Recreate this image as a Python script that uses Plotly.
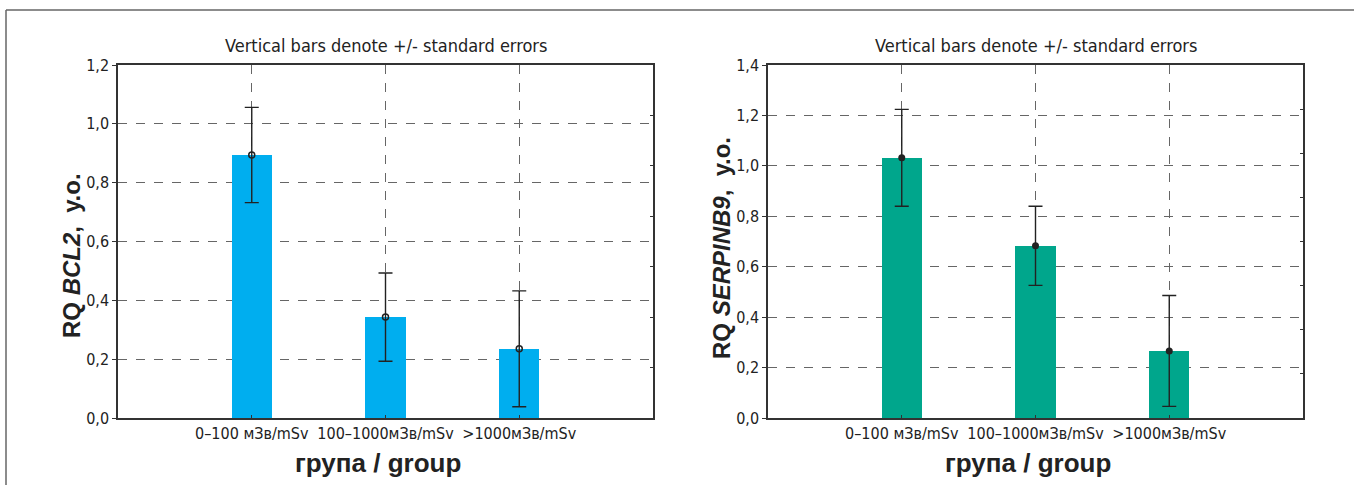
import plotly.graph_objects as go

categories = ["0–100 мЗв/mSv", "100–1000мЗв/mSv", ">1000мЗв/mSv"]
cat_pos = [1, 2, 3]

bcl2_mean = [0.894, 0.343, 0.235]
bcl2_se = [0.162, 0.150, 0.197]

serpinb9_mean = [1.032, 0.683, 0.266]
serpinb9_se = [0.192, 0.157, 0.220]

y_ticks_left = [0.0, 0.2, 0.4, 0.6, 0.8, 1.0, 1.2]
y_ticks_right = [0.0, 0.2, 0.4, 0.6, 0.8, 1.0, 1.2, 1.4]

title_text = "Vertical bars denote +/- standard errors"
x_title = "група / group"
y_title_left = "RQ <i>BCL2</i>,\u00a0\u00a0у.о."
y_title_right = "RQ <i>SERPINB9</i>,\u00a0\u00a0у.о."

W, H = 1354, 485
NARROW = "DejaVu Sans Condensed, Liberation Sans Narrow, sans-serif"
BOLD = "Liberation Sans, Arial, sans-serif"

def px_x(p):
    return p / W

def px_y(p):
    return 1 - p / H

fig = go.Figure()

fig.add_trace(go.Bar(
    x=cat_pos, y=bcl2_mean, width=0.3,
    marker=dict(color="rgb(0,174,239)", line=dict(width=0)),
    xaxis="x", yaxis="y", showlegend=False, hoverinfo="skip",
))
fig.add_trace(go.Scatter(
    x=cat_pos, y=bcl2_mean, mode="markers",
    marker=dict(symbol="circle-open", size=6, color="#222", line=dict(width=1.5)),
    error_y=dict(type="data", array=bcl2_se, visible=True, color="#222", thickness=1.4, width=7),
    xaxis="x", yaxis="y", showlegend=False, hoverinfo="skip",
))
fig.add_trace(go.Bar(
    x=cat_pos, y=serpinb9_mean, width=0.3,
    marker=dict(color="rgb(0,166,140)", line=dict(width=0)),
    xaxis="x2", yaxis="y2", showlegend=False, hoverinfo="skip",
))
fig.add_trace(go.Scatter(
    x=cat_pos, y=serpinb9_mean, mode="markers",
    marker=dict(symbol="circle", size=7, color="#222"),
    error_y=dict(type="data", array=serpinb9_se, visible=True, color="#222", thickness=1.4, width=7),
    xaxis="x2", yaxis="y2", showlegend=False, hoverinfo="skip",
))
fig.add_trace(go.Scatter(x=[], y=[], xaxis="x", yaxis="y3", showlegend=False))
fig.add_trace(go.Scatter(x=[], y=[], xaxis="x2", yaxis="y4", showlegend=False))

ydom = [px_y(418), px_y(65)]
grid = dict(showgrid=True, gridcolor="#666", griddash="dash", gridwidth=1)
axline = dict(showline=True, linecolor="#333", linewidth=1.5, mirror=True, zeroline=False)
tickfont = dict(family=NARROW, size=16, color="#222")

xcommon = dict(range=[0, 4], tickvals=cat_pos, ticktext=categories, ticks="inside",
               ticklen=3, tickcolor="#333", tickfont=tickfont, **grid, **axline)
fig.update_layout(
    xaxis=dict(domain=[px_x(118), px_x(653)], anchor="y", **xcommon),
    xaxis2=dict(domain=[px_x(768), px_x(1303)], anchor="y2", **xcommon),
    yaxis=dict(domain=ydom, anchor="x", range=[0, 1.2], tickvals=y_ticks_left,
               tickformat=".1f", ticks="outside", ticklen=4, tickcolor="#333",
               tickfont=tickfont, **grid, **axline),
    yaxis2=dict(domain=ydom, anchor="x2", range=[0, 1.4], tickvals=y_ticks_right,
                tickformat=".1f", ticks="outside", ticklen=4, tickcolor="#333",
                tickfont=tickfont, **grid, **axline),
    yaxis3=dict(overlaying="y", side="right", anchor="x", range=[0, 7],
                tickvals=[1, 2, 3, 4, 5, 6], ticks="inside", ticklen=3, tickcolor="#333",
                showticklabels=False, showgrid=False, showline=False, zeroline=False),
    yaxis4=dict(overlaying="y2", side="right", anchor="x2", range=[0, 8],
                tickvals=[1, 2, 3, 4, 5, 6, 7], ticks="inside", ticklen=3, tickcolor="#333",
                showticklabels=False, showgrid=False, showline=False, zeroline=False),
    separators=", ",
    width=W, height=H,
    autosize=False,
    margin=dict(l=0, r=0, t=0, b=0, pad=0, autoexpand=False),
    paper_bgcolor="white", plot_bgcolor="white",
    bargap=0,
)

annotations = []
for cx, ytitle, ycy, yx in [(385.5, y_title_left, 256, 71), (1035.5, y_title_right, 248, 722)]:
    annotations.append(dict(text=title_text, x=px_x(cx), y=px_y(45), xref="paper", yref="paper",
                            showarrow=False, xanchor="center", yanchor="middle",
                            font=dict(family=NARROW, size=18, color="#222")))
    annotations.append(dict(text=x_title, x=px_x(cx - 8), y=px_y(463), xref="paper", yref="paper",
                            showarrow=False, xanchor="center", yanchor="middle",
                            font=dict(family=BOLD, size=26, color="#222", weight="bold")))
    annotations.append(dict(text=ytitle, x=px_x(yx), y=px_y(ycy), xref="paper", yref="paper",
                            showarrow=False, xanchor="center", yanchor="middle", textangle=-90,
                            font=dict(family=BOLD, size=24, color="#222", weight="bold")))
fig.update_layout(annotations=annotations)

fig.add_shape(type="line", xref="paper", yref="paper", x0=px_x(6), x1=px_x(6),
              y0=0, y1=px_y(10), line=dict(color="#666", width=1.5))
fig.add_shape(type="line", xref="paper", yref="paper", x0=px_x(6), x1=1,
              y0=px_y(10), y1=px_y(10), line=dict(color="#666", width=1.5))

fig.write_html(
    "out.html",
    config={"displayModeBar": False},
    post_script="document.body.style.margin='0px';document.body.style.overflow='hidden';",
)
